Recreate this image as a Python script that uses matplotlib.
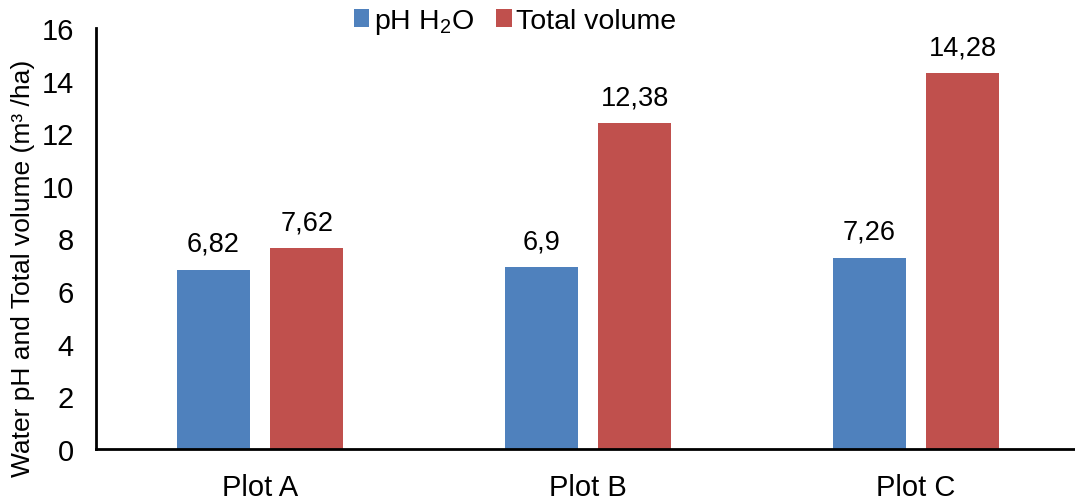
import matplotlib
matplotlib.use("Agg")
import matplotlib.pyplot as plt
import numpy as np

plt.rcParams['font.family'] = ['Liberation Sans', 'DejaVu Sans']
plt.rcParams['mathtext.fontset'] = 'custom'
plt.rcParams['mathtext.rm'] = 'Liberation Sans'
plt.rcParams['mathtext.it'] = 'Liberation Sans:italic'

categories = ["Plot A", "Plot B", "Plot C"]
ph_values = [6.82, 6.9, 7.26]
volume_values = [7.62, 12.38, 14.28]
ph_labels = ["6,82", "6,9", "7,26"]
volume_labels = ["7,62", "12,38", "14,28"]
series_names = ["pH H$_2$O", "Total volume"]
yticks = [0, 2, 4, 6, 8, 10, 12, 14, 16]

blue = "#4F81BD"
red = "#C0504D"

fig = plt.figure(figsize=(10.75, 5.02), dpi=100)
ax = fig.add_axes([96 / 1075, 1 - 450 / 502, 1 - 96 / 1075, (450 - 29) / 502])

x = np.arange(len(categories))
w = 0.223
off = 0.1425
b1 = ax.bar(x - off, ph_values, w, color=blue, label=series_names[0])
b2 = ax.bar(x + off, volume_values, w, color=red, label=series_names[1])

for bars, labels in ((b1, ph_labels), (b2, volume_labels)):
    for rect, lab in zip(bars, labels):
        ax.annotate(lab, (rect.get_x() + rect.get_width() / 2, rect.get_height()),
                    xytext=(0, 9.5), textcoords="offset points",
                    ha="center", va="bottom", fontsize=19.5)

ax.set_xlim(-0.5, 2.485)
ax.set_ylim(0, 16)
ax.set_yticks(yticks)
ax.set_xticks(x)
ax.set_xticklabels(categories)
ax.tick_params(axis='both', length=0, labelsize=21)
ax.tick_params(axis='y', pad=16)
ax.tick_params(axis='x', pad=17)
for s in ("top", "right"):
    ax.spines[s].set_visible(False)
for s in ("left", "bottom"):
    ax.spines[s].set_linewidth(2)
    ax.spines[s].set_color("black")

ax.set_ylabel("Water pH and Total volume (m³ /ha)", fontsize=19)
ax.yaxis.set_label_coords(-0.0623, 0.432)

fig.legend(loc="upper center", bbox_to_anchor=(515 / 1075, 1.035), ncol=2, frameon=False,
           fontsize=20.5, handlelength=0.55, handleheight=0.55, handletextpad=0.15,
           columnspacing=0.8)

fig.savefig("out.png", dpi=100)
